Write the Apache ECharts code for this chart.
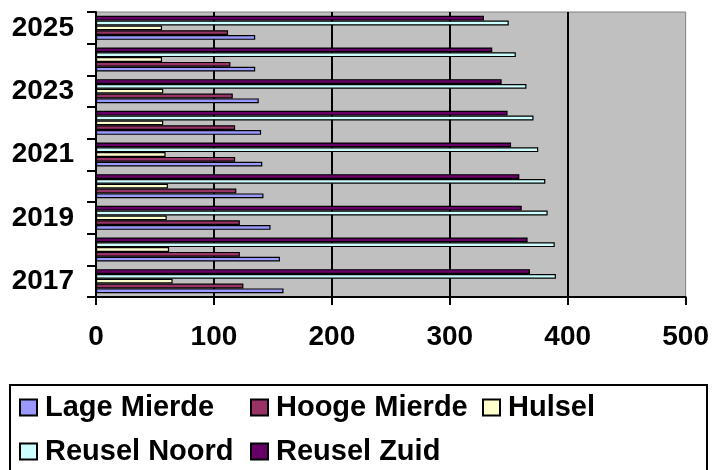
<!DOCTYPE html>
<html>
<head>
<meta charset="utf-8">
<script src="https://cdn.jsdelivr.net/npm/echarts@6/dist/echarts.min.js"></script>
<style>
html,body{margin:0;padding:0;background:#fff;}
#chart{width:712px;height:470px;}
</style>
</head>
<body>
<div id="chart"></div>
<script>
var years = ['2017','2018','2019','2020','2021','2022','2023','2024','2025'];
var lageMierde  = [159, 156, 148, 142, 141, 140, 138, 135, 135];
var hoogeMierde = [125, 122, 122, 119, 118, 118, 116, 114, 112];
var hulsel      = [65, 62, 60, 61, 59, 57, 57, 56, 56];
var reuselNoord = [390, 389, 383, 381, 375, 371, 365, 356, 350];
var reuselZuid  = [368, 366, 361, 359, 352, 349, 344, 336, 329];
var xTicks = [0, 100, 200, 300, 400, 500];

var seriesNames = ['Lage Mierde','Hooge Mierde','Hulsel','Reusel Noord','Reusel Zuid'];
var seriesData = [lageMierde, hoogeMierde, hulsel, reuselNoord, reuselZuid];
var colors = ['#9999FF','#993366','#FFFFCC','#CCFFFF','#660066'];

var font = "'Liberation Sans', Arial, sans-serif";
var chart = echarts.init(document.getElementById('chart'), null, {renderer:'canvas'});

// ECharts places the first series at the top of a horizontal band; reverse so
// Lage Mierde sits at the bottom like the reference.
var series = seriesNames.map(function(n,i){
  return {
    name: n, type: 'bar', data: seriesData[i],
    barGap: '0%', barCategoryGap: '24%',
    itemStyle: {color: colors[i], borderColor: '#000', borderWidth: 1.2},
    emphasis: {disabled: true},
    animation: false
  };
}).reverse();

var legendPos = [[19,393],[250,393],[482,393],[19,437],[250,437]];
var legends = seriesNames.map(function(n,i){
  return {
    data: [{name: n, itemStyle: {color: colors[i], borderColor:'#000', borderWidth: 2}}],
    left: legendPos[i][0], top: legendPos[i][1],
    padding: 0, itemWidth: 17, itemHeight: 16, icon: 'rect',
    selectedMode: false,
    textStyle: {fontSize: 29, fontWeight: 'bold', color: '#000', fontFamily: font, padding: [0,0,0,3]}
  };
});

chart.setOption({
  animation: false,
  textStyle: {fontFamily: font},
  grid: {left: 96, right: 25, top: 12, bottom: 173, show: true,
         backgroundColor: '#C0C0C0', borderColor: '#808080', borderWidth: 1},
  legend: legends,
  graphic: [{type:'rect', shape:{x:10, y:385, width:697, height:100},
             style:{fill:'none', stroke:'#000', lineWidth:2}, z: 100}],
  xAxis: {
    type: 'value', min: xTicks[0], max: xTicks[xTicks.length-1], interval: 100,
    axisLine: {show: true, lineStyle: {color:'#000', width: 2}},
    axisTick: {show: true, length: 8, lineStyle: {color:'#000', width: 2}},
    axisLabel: {fontSize: 28, fontWeight: 'bold', color:'#000', margin: 26, fontFamily: font},
    splitLine: {show: true, showMinLine: false, showMaxLine: false, lineStyle: {color:'#000', width: 2}}
  },
  yAxis: {
    type: 'category', data: years,
    axisLine: {show: true, lineStyle: {color:'#000', width: 2}},
    axisTick: {show: true, length: 9, interval: 0, lineStyle: {color:'#000', width: 2}},
    axisLabel: {interval: 1, fontSize: 28, fontWeight: 'bold', color:'#000', margin: 22, fontFamily: font},
    splitLine: {show: false}
  },
  series: series
});
</script>
</body>
</html>
